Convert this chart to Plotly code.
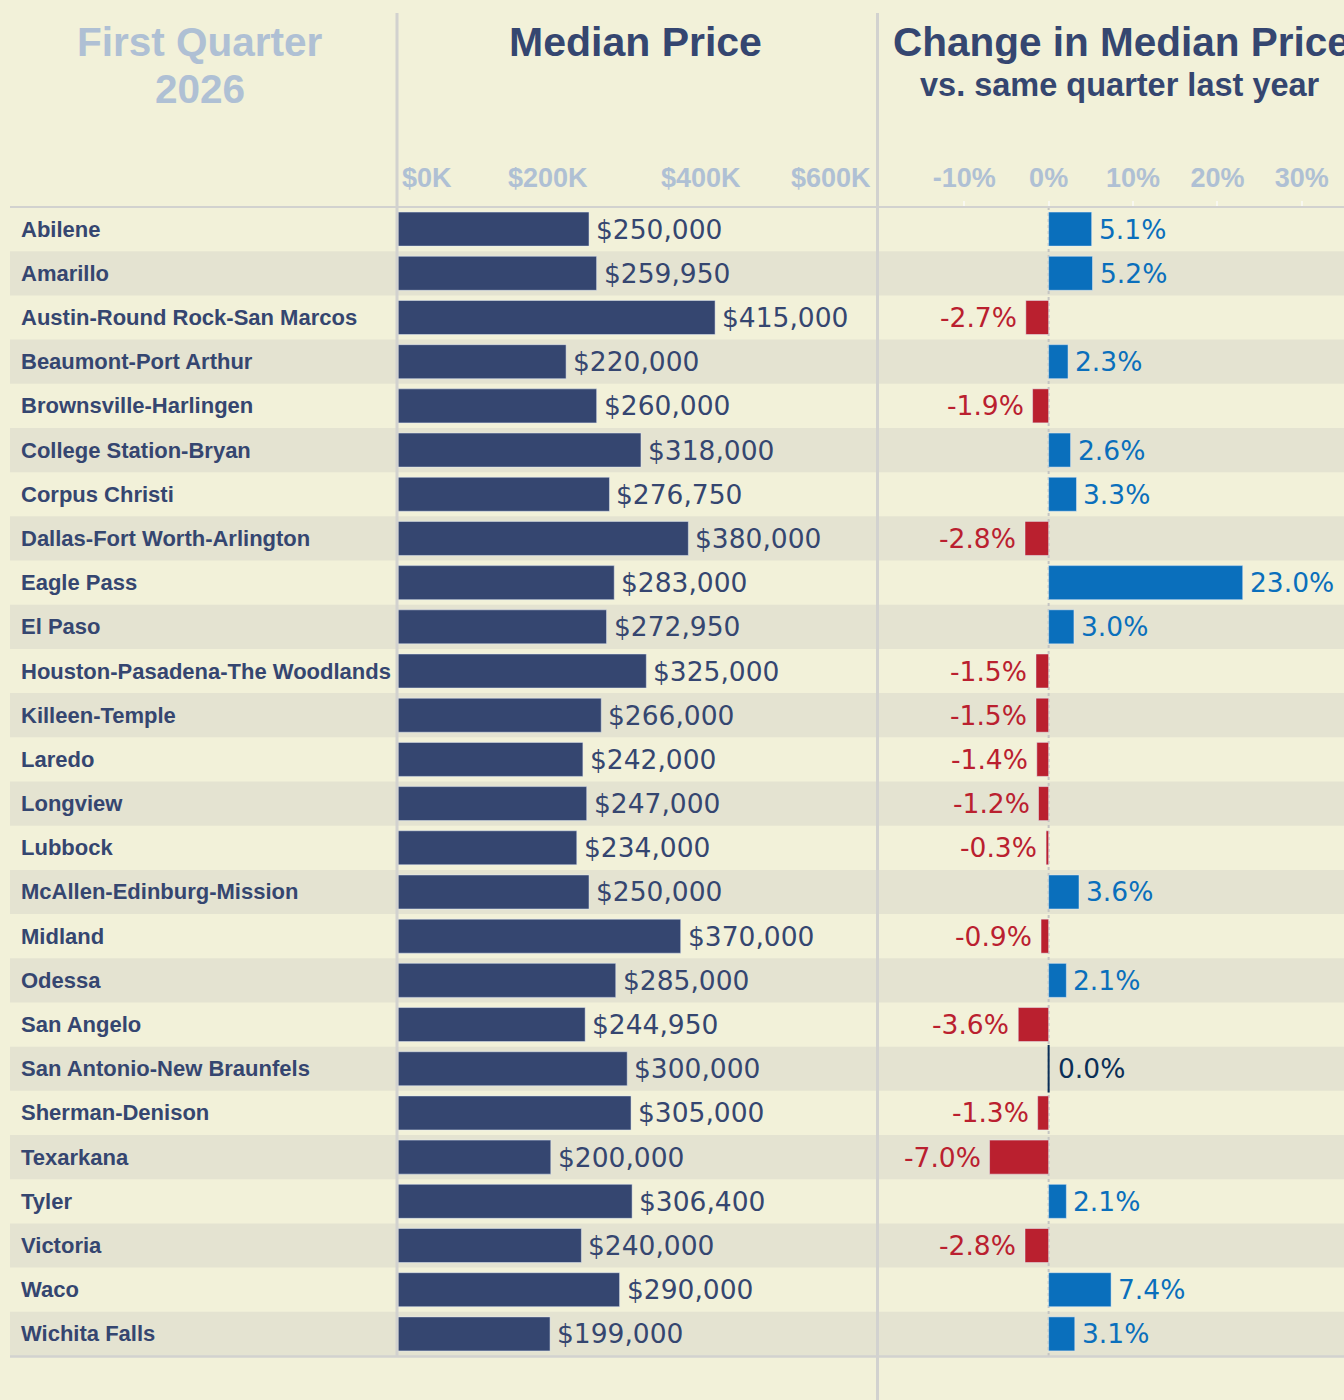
import plotly.graph_objects as go

metros = ["Abilene", "Amarillo", "Austin-Round Rock-San Marcos", "Beaumont-Port Arthur",
          "Brownsville-Harlingen", "College Station-Bryan", "Corpus Christi",
          "Dallas-Fort Worth-Arlington", "Eagle Pass", "El Paso",
          "Houston-Pasadena-The Woodlands", "Killeen-Temple", "Laredo", "Longview",
          "Lubbock", "McAllen-Edinburg-Mission", "Midland", "Odessa", "San Angelo",
          "San Antonio-New Braunfels", "Sherman-Denison", "Texarkana", "Tyler",
          "Victoria", "Waco", "Wichita Falls"]
median_price = [250000, 259950, 415000, 220000, 260000, 318000, 276750, 380000, 283000,
                272950, 325000, 266000, 242000, 247000, 234000, 250000, 370000, 285000,
                244950, 300000, 305000, 200000, 306400, 240000, 290000, 199000]
pct_change = [5.1, 5.2, -2.7, 2.3, -1.9, 2.6, 3.3, -2.8, 23.0, 3.0, -1.5, -1.5, -1.4,
              -1.2, -0.3, 3.6, -0.9, 2.1, -3.6, 0.0, -1.3, -7.0, 2.1, -2.8, 7.4, 3.1]
price_ticks = [0, 200000, 400000, 600000]
price_tick_text = ["$0K", "$200K", "$400K", "$600K"]
change_ticks = [-10, 0, 10, 20, 30]
change_tick_text = ["-10%", "0%", "10%", "20%", "30%"]

W, H = 1344, 1400
BG = "#F2F1D9"
STRIPE = "#E4E3D1"
NAVY = "#354670"
BLUE = "#0A6FBC"
RED = "#BA202F"
ZERO_COL = "#0B2F57"
TICK_COL = "#AFC0D4"
SEP = "#D2D2CF"
LAB = "Liberation Sans, Arial, sans-serif"
VAL = "DejaVu Sans, sans-serif"

PRICE_RANGE = [0, 625600]
CHANGE_RANGE = [-20.1, 35.0]
px = lambda v: v / W
py = lambda v: 1 - v / H
y_dom = [py(1356), py(207)]

fig = go.Figure()

fig.add_trace(go.Bar(x=median_price, y=metros, orientation="h", marker_color=NAVY,
                     width=0.77, xaxis="x", yaxis="y", showlegend=False, hoverinfo="x+y"))

chg_colors = [BLUE if c > 0 else (RED if c < 0 else ZERO_COL) for c in pct_change]
fig.add_trace(go.Bar(x=pct_change, y=metros, orientation="h", marker_color=chg_colors,
                     width=0.77, xaxis="x2", yaxis="y", showlegend=False, hoverinfo="x+y"))

# zero-change marker
zero_y = [m for m, c in zip(metros, pct_change) if c == 0]
fig.add_trace(go.Scatter(x=[0] * len(zero_y), y=zero_y, mode="markers", xaxis="x2", yaxis="y",
                         marker=dict(symbol="line-ns-open", size=34, color=ZERO_COL,
                                     line=dict(color=ZERO_COL, width=2)),
                         showlegend=False, hoverinfo="skip"))

annotations = []
# row labels and value labels
for m, p, c in zip(metros, median_price, pct_change):
    annotations.append(dict(x=px(19), xref="paper", y=m, yref="y", text=m, showarrow=False,
                            xanchor="left", yanchor="middle",
                            font=dict(family=LAB, size=22, color=NAVY, weight="bold")))
    annotations.append(dict(x=p, xref="x", y=m, yref="y", text=f"${p:,.0f}", showarrow=False,
                            xanchor="left", yanchor="middle", xshift=5,
                            font=dict(family=VAL, size=26.5, color=NAVY)))
    if c > 0:
        col, anc, sh = BLUE, "left", 5
    elif c < 0:
        col, anc, sh = RED, "right", -7
    else:
        col, anc, sh = ZERO_COL, "left", 7
    annotations.append(dict(x=c, xref="x2", y=m, yref="y", text=f"{c:.1f}%", showarrow=False,
                            xanchor=anc, yanchor="middle", xshift=sh,
                            font=dict(family=VAL, size=26.5, color=col)))

# price axis tick labels (kept inside the pane)
for i, (tv, tt) in enumerate(zip(price_ticks, price_tick_text)):
    if i == 0:
        anc, xv = "left", tv
    elif i == len(price_ticks) - 1:
        anc, xv = "right", PRICE_RANGE[1]
    else:
        anc, xv = "center", tv
    annotations.append(dict(x=xv, xref="x", y=py(178), yref="paper", text=tt, showarrow=False,
                            xanchor=anc, yanchor="middle", xshift=2 if i == 0 else -3,
                            font=dict(family=LAB, size=27, color=TICK_COL, weight="bold")))

# headers
annotations += [
    dict(x=px(200), y=py(42), xref="paper", yref="paper", text="First Quarter", showarrow=False,
         xanchor="center", yanchor="middle", font=dict(family=LAB, size=40.5, color=TICK_COL, weight="bold")),
    dict(x=px(200), y=py(89), xref="paper", yref="paper", text="2026", showarrow=False,
         xanchor="center", yanchor="middle", font=dict(family=LAB, size=40.5, color=TICK_COL, weight="bold")),
    dict(x=px(635), y=py(42), xref="paper", yref="paper", text="Median Price", showarrow=False,
         xanchor="center", yanchor="middle", font=dict(family=LAB, size=41, color=NAVY, weight="bold")),
    dict(x=px(1121), y=py(42), xref="paper", yref="paper", text="Change in Median Price", showarrow=False,
         xanchor="center", yanchor="middle", font=dict(family=LAB, size=40.5, color=NAVY, weight="bold")),
    dict(x=px(1120), y=py(85), xref="paper", yref="paper", text="vs. same quarter last year", showarrow=False,
         xanchor="center", yanchor="middle", font=dict(family=LAB, size=32.5, color=NAVY, weight="bold")),
]

shapes = []
for i, m in enumerate(metros):
    if i % 2 == 1:
        shapes.append(dict(type="rect", xref="paper", x0=px(10), x1=1, yref="y",
                           y0=i - 0.5, y1=i + 0.5, fillcolor=STRIPE, line_width=0, layer="below"))
# zero reference line in the change pane
shapes.append(dict(type="line", xref="x2", x0=0, x1=0, yref="paper", y0=y_dom[0], y1=y_dom[1],
                   line=dict(color="#C4C4C2", width=2, dash="dot"), layer="below"))
# separators
shapes += [
    dict(type="line", xref="paper", yref="paper", x0=px(397), x1=px(397), y0=py(1356), y1=py(13),
         line=dict(color=SEP, width=3)),
    dict(type="line", xref="paper", yref="paper", x0=px(877.5), x1=px(877.5), y0=0, y1=py(13),
         line=dict(color=SEP, width=3)),
    dict(type="line", xref="paper", yref="paper", x0=px(10), x1=1, y0=py(207), y1=py(207),
         line=dict(color=SEP, width=2)),
    dict(type="line", xref="paper", yref="paper", x0=px(10), x1=1, y0=py(1356.5), y1=py(1356.5),
         line=dict(color=SEP, width=2.5)),
]

fig.update_layout(
    width=W, height=H, margin=dict(l=0, r=0, t=0, b=0),
    paper_bgcolor=BG, plot_bgcolor="rgba(0,0,0,0)",
    bargap=0.2, showlegend=False,
    xaxis=dict(domain=[px(398), px(876)], range=PRICE_RANGE, side="top", anchor="y",
               tickvals=price_ticks, showticklabels=False, showgrid=False, zeroline=False,
               ticks="", showline=False, fixedrange=True),
    xaxis2=dict(domain=[px(879), 1], range=CHANGE_RANGE, side="top", anchor="y",
                tickvals=change_ticks, ticktext=change_tick_text, showgrid=False, zeroline=False,
                ticks="outside", ticklen=5, tickcolor="#F8F8F0", tickwidth=2,
                ticklabelstandoff=3,
                tickfont=dict(family=LAB, size=27, color=TICK_COL, weight="bold"),
                showline=False, fixedrange=True),
    yaxis=dict(domain=y_dom, range=[len(metros) - 0.5, -0.5], type="category",
               showticklabels=False, showgrid=False, zeroline=False, ticks="", fixedrange=True),
    annotations=annotations, shapes=shapes,
)

fig.write_html("out.html", config={"displayModeBar": False},
               post_script="document.body.style.margin='0';document.body.style.background='%s';" % BG)
